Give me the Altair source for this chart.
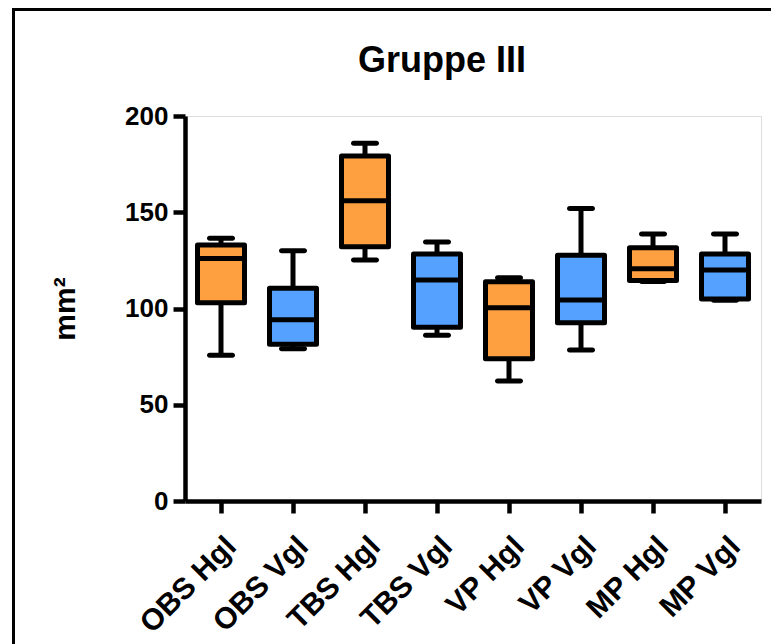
import altair as alt
import pandas as pd

categories = ["OBS Hgl", "OBS Vgl", "TBS Hgl", "TBS Vgl", "VP Hgl", "VP Vgl", "MP Hgl", "MP Vgl"]
groups = ["Hgl", "Vgl", "Hgl", "Vgl", "Hgl", "Vgl", "Hgl", "Vgl"]
mins = [75.7, 79.1, 125.2, 86.1, 62.3, 78.4, 114.0, 104.3]
q1s = [103.0, 81.4, 132.1, 90.2, 73.9, 92.6, 114.6, 104.9]
medians = [126.0, 94.2, 156.0, 114.8, 100.4, 104.4, 120.7, 120.0]
q3s = [133.0, 110.5, 179.2, 128.3, 113.9, 127.6, 131.6, 128.3]
maxs = [136.5, 130.0, 185.8, 134.5, 116.0, 152.0, 138.7, 138.7]
y_ticks = [0, 50, 100, 150, 200]

ORANGE = "#FFA040"
BLUE = "#55A1FF"
FONT = "Liberation Sans"

df = pd.DataFrame({
    "cat": categories, "grp": groups, "min": mins, "q1": q1s,
    "median": medians, "q3": q3s, "max": maxs,
})

W, H = 576, 385
PAD = {"left": 185, "top": 116, "right": 10, "bottom": 143}

x_enc = alt.X(
    "cat:N", sort=categories, title=None,
    scale=alt.Scale(paddingInner=0, paddingOuter=0),
    axis=alt.Axis(labelAngle=-45, labelFontSize=30, labelFont=FONT, labelFontWeight="bold",
                  labelColor="black", labelAlign="right", labelBaseline="top",
                  domainColor="black", domainWidth=4.5, tickColor="black", tickWidth=4.5,
                  tickSize=12, labelPadding=18, labelOffset=0),
)
y_scale = alt.Scale(domain=[0, 200], nice=False, zero=True)
y_axis = alt.Axis(values=y_ticks, grid=False, labelFontSize=26, labelFont=FONT,
                  labelFontWeight="bold", labelColor="black", labelPadding=5,
                  domainColor="black", domainWidth=4.5, tickColor="black", tickWidth=4.5,
                  tickSize=12, title="mm²", titleFontSize=30, titleFont=FONT,
                  titleFontWeight="bold", titleColor="black", titlePadding=44)

base = alt.Chart(df).encode(x=x_enc)

whisk = base.mark_rule(color="black", strokeWidth=5).encode(
    y=alt.Y("min:Q", scale=y_scale, axis=y_axis), y2="max:Q")
cap_lo = base.mark_tick(color="black", thickness=5, size=28, cornerRadius=2.5, opacity=1).encode(
    y=alt.Y("min:Q", scale=y_scale))
cap_hi = base.mark_tick(color="black", thickness=5, size=28, cornerRadius=2.5, opacity=1).encode(
    y=alt.Y("max:Q", scale=y_scale))
box = base.mark_bar(size=47, stroke="black", strokeWidth=5, strokeJoin="round", opacity=1).encode(
    y=alt.Y("q1:Q", scale=y_scale), y2="q3:Q",
    color=alt.Color("grp:N", scale=alt.Scale(domain=["Hgl", "Vgl"], range=[ORANGE, BLUE]), legend=None))
med = base.mark_tick(color="black", thickness=5, size=47, opacity=1).encode(
    y=alt.Y("median:Q", scale=y_scale))

frame_df = pd.DataFrame({"k": [0]})
frame_left = alt.Chart(frame_df).mark_rule(color="black", strokeWidth=3).encode(
    x=alt.value(13.5 - PAD["left"]), y=alt.value(8 - PAD["top"]), y2=alt.value(700 - PAD["top"]))
frame_top = alt.Chart(frame_df).mark_rule(color="black", strokeWidth=3).encode(
    y=alt.value(9.5 - PAD["top"]), x=alt.value(12 - PAD["left"]), x2=alt.value(800 - PAD["left"]))

chart = alt.layer(whisk, cap_lo, cap_hi, box, med, frame_left, frame_top).properties(
    width=W, height=H,
    title=alt.TitleParams("Gruppe III", fontSize=36, font=FONT, fontWeight="bold", color="black",
                          anchor="middle", dx=-31, offset=-101, baseline="alphabetic"),
    autosize=alt.AutoSizeParams(type="none"),
    padding=PAD,
).configure_view(stroke=None).configure(background="white")

chart.save("out.html", embed_options={"renderer": "svg", "actions": False})
